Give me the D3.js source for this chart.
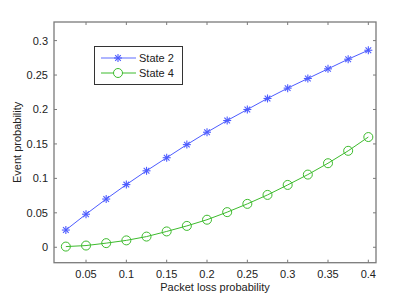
<!DOCTYPE html>
<html><head><meta charset="utf-8">
<script src="https://cdn.jsdelivr.net/npm/d3@7"></script>
<style>body{margin:0;background:#fff}svg{display:block}text{font-family:"Liberation Sans",Arial,sans-serif}</style>
</head><body><svg id="c" width="415" height="296"></svg>
<script>
const lossProb = [0.025,0.05,0.075,0.1,0.125,0.15,0.175,0.2,0.225,0.25,0.275,0.3,0.325,0.35,0.375,0.4];
const state2 = [0.025,0.048,0.070,0.091,0.111,0.130,0.149,0.167,0.184,0.200,0.216,0.231,0.245,0.259,0.273,0.286];
const state4 = [0.001,0.0025,0.006,0.010,0.0155,0.023,0.031,0.040,0.051,0.063,0.076,0.0905,0.1055,0.122,0.140,0.160];
const xTicks = [0.05,0.1,0.15,0.2,0.25,0.3,0.35,0.4];
const yTicks = [0,0.05,0.1,0.15,0.2,0.25,0.3];
const seriesNames = ["State 2","State 4"];

const svg = d3.select("#c");
const L=54, R=376, T=22, B=262.7;
const x = d3.scaleLinear().domain([0.0103,0.4095]).range([L,R]);
const y = d3.scaleLinear().domain([-0.0224,0.327]).range([B,T]);
const axisCol="#7a7a7a";

// ticks inward
const g = svg.append("g");
xTicks.forEach(t=>{
  g.append("line").attr("x1",x(t)).attr("x2",x(t)).attr("y1",B).attr("y2",B-3).attr("stroke",axisCol);
  g.append("line").attr("x1",x(t)).attr("x2",x(t)).attr("y1",T).attr("y2",T+3).attr("stroke",axisCol);
  g.append("text").attr("x",x(t)).attr("y",278).attr("text-anchor","middle").attr("font-size",11).attr("fill","#222").text(String(t));
});
yTicks.forEach(t=>{
  g.append("line").attr("x1",L).attr("x2",L+3).attr("y1",y(t)).attr("y2",y(t)).attr("stroke",axisCol);
  g.append("line").attr("x1",R).attr("x2",R-3).attr("y1",y(t)).attr("y2",y(t)).attr("stroke",axisCol);
  g.append("text").attr("x",48).attr("y",y(t)+4).attr("text-anchor","end").attr("font-size",11).attr("fill","#222").text(String(t));
});
svg.append("rect").attr("x",L).attr("y",T).attr("width",R-L).attr("height",B-T).attr("fill","none").attr("stroke",axisCol).attr("stroke-width",1.3);

svg.append("text").attr("x",(L+R)/2).attr("y",291).attr("text-anchor","middle").attr("font-size",11).attr("fill","#222").text("Packet loss probability");
svg.append("text").attr("transform",`translate(21,${(T+B)/2}) rotate(-90)`).attr("text-anchor","middle").attr("font-size",11).attr("fill","#222").text("Event probability");

const blue="#4d5cff", green="#3dbb2d";
const line = d3.line().x((d,i)=>x(lossProb[i])).y(d=>y(d));
function star(sel,cx,cy,r,col){
  const a=sel.append("g").attr("stroke",col).attr("stroke-width",1.1);
  [0,45,90,135].forEach(deg=>{
    const rad=deg*Math.PI/180, dx=Math.cos(rad)*r, dy=Math.sin(rad)*r;
    a.append("line").attr("x1",cx-dx).attr("x2",cx+dx).attr("y1",cy-dy).attr("y2",cy+dy);
  });
}
svg.append("path").attr("d",line(state2)).attr("fill","none").attr("stroke",blue).attr("stroke-width",1);
state2.forEach((v,i)=>star(svg,x(lossProb[i]),y(v),4,blue));
svg.append("path").attr("d",line(state4)).attr("fill","none").attr("stroke",green).attr("stroke-width",1);
svg.selectAll("circle.s4").data(state4).join("circle").attr("cx",(d,i)=>x(lossProb[i])).attr("cy",d=>y(d)).attr("r",4.5).attr("fill","none").attr("stroke",green).attr("stroke-width",1);

// legend
const lg=svg.append("g");
lg.append("rect").attr("x",94.5).attr("y",46.5).attr("width",88).attr("height",38).attr("fill","#fff").attr("stroke","#333").attr("stroke-width",1);
lg.append("line").attr("x1",101).attr("x2",136).attr("y1",58).attr("y2",58).attr("stroke",blue).attr("stroke-width",1.5).attr("opacity",0.6);
star(lg,118,58,4,blue);
lg.append("line").attr("x1",101).attr("x2",136).attr("y1",73).attr("y2",73).attr("stroke",green).attr("stroke-width",1);
lg.append("circle").attr("cx",118).attr("cy",73).attr("r",4.5).attr("fill","#fff").attr("stroke",green);
lg.append("text").attr("x",139).attr("y",62).attr("font-size",11).attr("fill","#222").text(seriesNames[0]);
lg.append("text").attr("x",139).attr("y",77).attr("font-size",11).attr("fill","#222").text(seriesNames[1]);
</script></body></html>
